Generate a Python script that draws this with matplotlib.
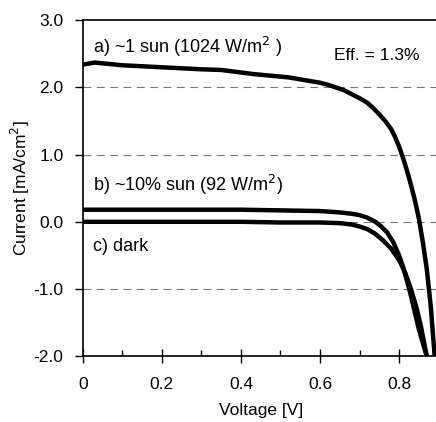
import matplotlib
matplotlib.use('Agg')
import matplotlib.pyplot as plt
from matplotlib.ticker import MultipleLocator

plt.rcParams['font.family'] = ['Liberation Sans', 'DejaVu Sans']

# I-V curves read from the measurement (V in volts, J in mA/cm^2)
v_sun = [0, 0.03, 0.1, 0.2, 0.3, 0.35, 0.43, 0.52, 0.6, 0.62, 0.64, 0.66, 0.68, 0.70,
         0.72, 0.735, 0.75, 0.765, 0.78, 0.79, 0.80, 0.81, 0.82, 0.83, 0.84, 0.85,
         0.86, 0.87, 0.88, 0.89]
j_sun = [2.34, 2.37, 2.33, 2.30, 2.27, 2.26, 2.20, 2.15, 2.07, 2.04, 2.00, 1.96, 1.90, 1.84,
         1.77, 1.69, 1.60, 1.50, 1.38, 1.26, 1.12, 0.95, 0.76, 0.55, 0.32, 0.05,
         -0.3, -0.7, -1.25, -2.0]

v_10 = [0, 0.2, 0.4, 0.5, 0.6, 0.65, 0.68, 0.70, 0.72, 0.74, 0.755, 0.77, 0.785, 0.80,
        0.81, 0.82, 0.83, 0.84, 0.85, 0.86, 0.87]
j_10 = [0.18, 0.18, 0.18, 0.17, 0.16, 0.14, 0.12, 0.10, 0.06, 0.0, -0.07, -0.16, -0.3, -0.5,
        -0.67, -0.88, -1.1, -1.35, -1.6, -1.8, -2.0]

v_dark = [0, 0.2, 0.4, 0.5, 0.6, 0.65, 0.68, 0.70, 0.72, 0.74, 0.76, 0.78, 0.80, 0.815,
          0.83, 0.845, 0.855, 0.865, 0.87]
j_dark = [0.0, 0.0, 0.0, -0.01, -0.01, -0.02, -0.04, -0.07, -0.11, -0.18, -0.28, -0.40, -0.57,
          -0.75, -1.0, -1.3, -1.55, -1.85, -2.0]

y_ticks = [-2.0, -1.0, 0.0, 1.0, 2.0, 3.0]
x_ticks = [0, 0.2, 0.4, 0.6, 0.8]
x_ticklabels = ['0', '0.2', '0.4', '0.6', '0.8']

fig = plt.figure(figsize=(4.36, 4.22), dpi=100)
ax = fig.add_axes([0.19, 0.156, 0.816, 0.796])

for y in [-1.0, 0.0, 1.0, 2.0]:
    ax.axhline(y, color='#777777', lw=0.8, ls=(0, (7, 5)), zorder=1)

for v, j in [(v_sun, j_sun), (v_10, j_10), (v_dark, j_dark)]:
    ax.plot(v, j, color='black', lw=3.2, solid_capstyle='butt',
            solid_joinstyle='round', zorder=3)

ax.set_xlim(0, 0.9)
ax.set_ylim(-2.0, 3.0)
ax.set_yticks(y_ticks)
ax.set_yticklabels(['%.1f' % t for t in y_ticks])
ax.set_xticks(x_ticks)
ax.set_xticklabels(x_ticklabels)
ax.xaxis.set_minor_locator(MultipleLocator(0.1))
ax.tick_params(axis='x', which='major', direction='inout', length=10, width=1, labelsize=12.5, pad=10)
ax.tick_params(axis='x', which='minor', direction='in', length=4, width=1)
ax.tick_params(axis='y', which='major', direction='out', length=6, width=1, labelsize=12.5, pad=8)
for s in ax.spines.values():
    s.set_linewidth(1.2)

ax.set_xlabel('Voltage [V]', fontsize=12.5, labelpad=8)
ax.set_ylabel('Current [mA/cm$^2$]', fontsize=12.5, labelpad=1)

ax.text(0.025, 2.42, 'a) ~1 sun (1024 W/m$^2$ )', fontsize=13, va='bottom')
ax.text(0.635, 2.36, 'Eff. = 1.3%', fontsize=12.5, va='bottom')
ax.text(0.025, 0.37, 'b) ~10% sun (92 W/m$^2$)', fontsize=13, va='bottom')
ax.text(0.025, -0.5, 'c) dark', fontsize=13, va='bottom')

fig.savefig('out.png', dpi=100)
